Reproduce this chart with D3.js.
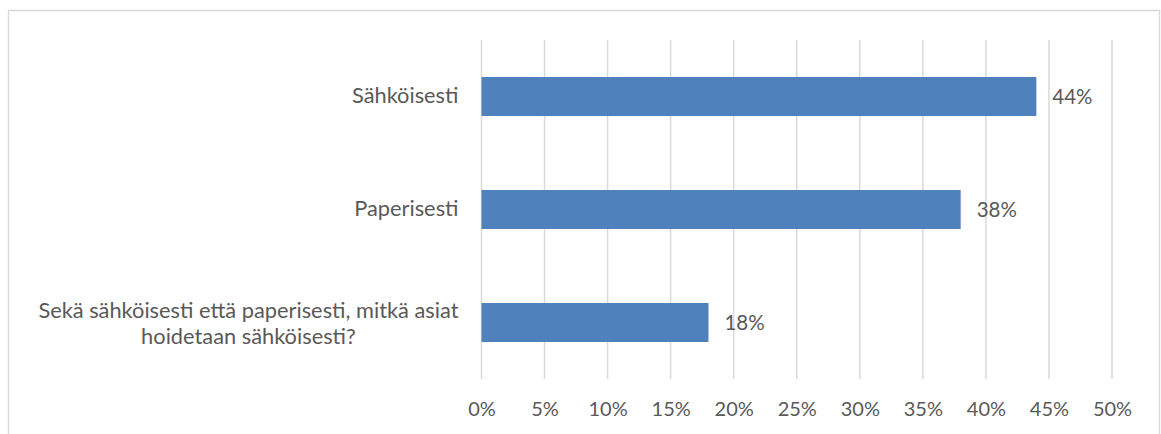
<!DOCTYPE html>
<html>
<head>
<meta charset="utf-8">
<script src="https://cdn.jsdelivr.net/npm/d3@7"></script>
<style>
  html, body { margin: 0; padding: 0; background: #fff; }
  svg { display: block; }
  text { font-family: Lato, "Open Sans", sans-serif; fill: #595959; }
</style>
</head>
<body>
<svg id="chart" width="1161" height="434"></svg>
<script>
// Response categories (top to bottom) and their shares
const categories = [
  "Sähköisesti",
  "Paperisesti",
  "Sekä sähköisesti että paperisesti, mitkä asiat hoidetaan sähköisesti?"
];
const categoryLines = [
  ["Sähköisesti"],
  ["Paperisesti"],
  ["Sekä sähköisesti että paperisesti, mitkä asiat", "hoidetaan sähköisesti?"]
];
const values = [0.44, 0.38, 0.18];
const valueLabels = ["44%", "38%", "18%"];
const tickValues = [0, 0.05, 0.10, 0.15, 0.20, 0.25, 0.30, 0.35, 0.40, 0.45, 0.50];

const svg = d3.select("#chart");
const W = 1161, H = 434;

// chart frame
svg.append("rect")
  .attr("x", 8.5).attr("y", 10.5)
  .attr("width", W - 10).attr("height", H + 10)
  .attr("fill", "none").attr("stroke", "#d9d9d9").attr("stroke-width", 1.5);

const plot = { left: 481.5, right: 1112, top: 40, bottom: 379 };

const x = d3.scaleLinear().domain([0, 0.5]).range([plot.left, plot.right]);
const y = d3.scaleBand().domain(categories)
  .range([plot.top, plot.bottom])
  .paddingInner(0.655).paddingOuter(0.3275);

// vertical gridlines
svg.append("g").selectAll("line").data(tickValues).join("line")
  .attr("x1", d => x(d)).attr("x2", d => x(d))
  .attr("y1", plot.top).attr("y2", plot.bottom)
  .attr("stroke", "#d9d9d9").attr("stroke-width", 1.5);

// x axis tick labels
const xAxis = d3.axisBottom(x).tickValues(tickValues)
  .tickFormat(d3.format(".0%")).tickSize(0).tickPadding(0);
const gx = svg.append("g").attr("transform", `translate(0,${plot.bottom + 23})`).call(xAxis);
gx.select(".domain").remove();
gx.selectAll("text").attr("font-size", 20).attr("font-family", null)
  .style("fill", "#595959");

// bars
svg.append("g").selectAll("rect").data(categories).join("rect")
  .attr("x", x(0))
  .attr("y", d => y(d))
  .attr("width", (d, i) => x(values[i]) - x(0))
  .attr("height", y.bandwidth())
  .attr("fill", "#4f81bd");

// value labels
svg.append("g").selectAll("text").data(categories).join("text")
  .attr("x", (d, i) => x(values[i]) + 16)
  .attr("y", d => y(d) + y.bandwidth() / 2)
  .attr("dy", "0.35em")
  .attr("font-size", 20.5)
  .text((d, i) => valueLabels[i]);

// category labels; multi-line labels are centred within a right-aligned block
const labelRight = plot.left - 23;
const lineH = 26;
categories.forEach((c, i) => {
  const lines = categoryLines[i];
  const cy = y(c) + y.bandwidth() / 2 - 1 + (lines.length - 1) * 2;
  const g = svg.append("g");
  const texts = lines.map((ln, j) => g.append("text")
    .attr("font-size", 21.8)
    .attr("y", cy + (j - (lines.length - 1) / 2) * lineH)
    .attr("dy", "0.35em")
    .text(ln));
  const widths = texts.map(t => t.node().getComputedTextLength());
  const maxW = d3.max(widths);
  const center = labelRight - maxW / 2;
  texts.forEach(t => t.attr("x", center).attr("text-anchor", "middle"));
});
</script>
</body>
</html>
